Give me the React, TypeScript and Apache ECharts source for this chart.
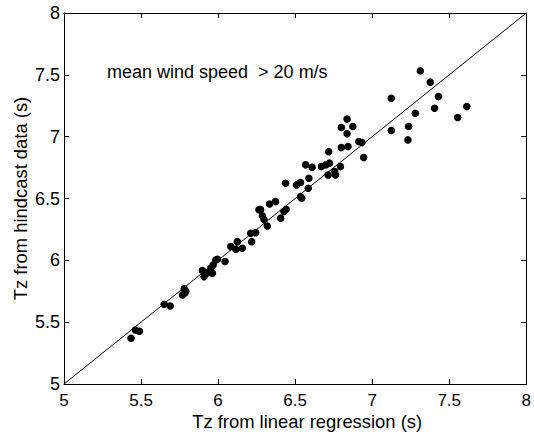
import React, { useEffect, useRef } from 'react';
import * as echarts from 'echarts';

const regressionTz = [
  5.435, 5.463, 5.489, 5.65, 5.689, 5.769, 5.79, 5.78, 5.785, 5.898,
  5.909, 5.931, 5.963, 5.952, 5.968, 5.985, 5.996, 6.045, 6.115, 6.082,
  6.125, 6.157, 6.212, 6.244, 6.218, 6.265, 6.276, 6.287, 6.298, 6.319,
  6.334, 6.373, 6.406, 6.427, 6.442, 6.438, 6.509, 6.535, 6.542, 6.535,
  6.585, 6.589, 6.568, 6.61, 6.671, 6.701, 6.723, 6.714, 6.762, 6.757,
  6.794, 6.718, 7.312, 7.377, 7.124, 7.43, 7.28, 7.405, 7.614, 7.555,
  7.124, 7.236, 7.232, 6.837, 6.8, 6.874, 6.837, 6.8, 6.843, 6.913,
  6.934, 6.945,
];
const hindcastTz = [
  5.37, 5.437, 5.426, 5.645, 5.631, 5.72, 5.75, 5.77, 5.735, 5.917,
  5.868, 5.9, 5.895, 5.936, 5.963, 6.003, 6.009, 5.99, 6.09, 6.111,
  6.151, 6.098, 6.219, 6.224, 6.151, 6.41, 6.41, 6.36, 6.33, 6.278,
  6.456, 6.475, 6.341, 6.394, 6.413, 6.624, 6.61, 6.629, 6.502, 6.515,
  6.583, 6.664, 6.772, 6.753, 6.758, 6.772, 6.786, 6.691, 6.691, 6.718,
  6.758, 6.879, 7.532, 7.441, 7.311, 7.324, 7.19, 7.23, 7.243, 7.155,
  7.05, 7.082, 6.974, 7.142, 7.074, 7.082, 7.023, 6.912, 6.92, 6.96,
  6.952, 6.831,
];
const identityLine = [5, 8];
const axisMin = 5;
const axisMax = 8;
const tickStep = 0.5;
const xTitle = 'Tz from linear regression (s)';
const yTitle = 'Tz from hindcast data (s)';
const annotation = 'mean wind speed \u00a0> 20 m/s';

const FONT = "'Liberation Sans', Arial, Helvetica, sans-serif";

export default function App() {
  const ref = useRef<HTMLDivElement>(null);
  useEffect(() => {
    if (!ref.current) return;
    const chart = echarts.init(ref.current, null, { renderer: 'svg' });
    const axisCommon = {
      type: 'value',
      min: axisMin,
      max: axisMax,
      interval: tickStep,
      splitLine: { show: false },
      axisLine: { show: true, lineStyle: { color: '#000', width: 1 } },
      axisTick: { show: true, inside: true, length: 5, lineStyle: { color: '#000', width: 1 } },
    };
    chart.setOption({
      animation: false,
      backgroundColor: '#fff',
      textStyle: { fontFamily: FONT },
      grid: { left: 64, top: 13, right: 6, bottom: 53 },
      xAxis: [
        {
          ...axisCommon,
          position: 'bottom',
          name: xTitle,
          nameLocation: 'middle',
          nameGap: 28,
          nameMoveOverlap: false,
          nameTextStyle: {
            color: '#000', fontSize: 18.4, lineHeight: 18, fontFamily: FONT, padding: [0, 0, 0, 24],
          },
          axisLabel: { color: '#000', fontSize: 17, lineHeight: 16, fontFamily: FONT, margin: 8 },
        },
        {
          ...axisCommon,
          position: 'top',
          axisLabel: { show: false },
        },
      ],
      yAxis: [
        {
          ...axisCommon,
          position: 'left',
          name: yTitle,
          nameLocation: 'middle',
          nameGap: 35,
          nameMoveOverlap: false,
          nameTextStyle: { color: '#000', fontSize: 18.4, fontFamily: FONT },
          axisLabel: { color: '#000', fontSize: 18, fontFamily: FONT, margin: 4 },
        },
        {
          ...axisCommon,
          position: 'right',
          axisLabel: { show: false },
        },
      ],
      graphic: [
        {
          type: 'text',
          left: 107,
          top: 63,
          style: { text: annotation, fill: '#000', font: `18px ${FONT}` },
        },
      ],
      series: [
        {
          type: 'line',
          data: [
            [identityLine[0], identityLine[0]],
            [identityLine[1], identityLine[1]],
          ],
          symbol: 'none',
          silent: true,
          lineStyle: { color: '#000', width: 1 },
        },
        {
          type: 'scatter',
          data: regressionTz.map((x, i) => [x, hindcastTz[i]]),
          symbol: 'circle',
          symbolSize: 7.5,
          itemStyle: { color: '#000', opacity: 1 },
        },
      ],
    });
    return () => chart.dispose();
  }, []);
  return (
    <div
      ref={ref}
      style={{ position: 'fixed', left: 0, top: 0, width: 534, height: 437, background: '#fff' }}
    />
  );
}
